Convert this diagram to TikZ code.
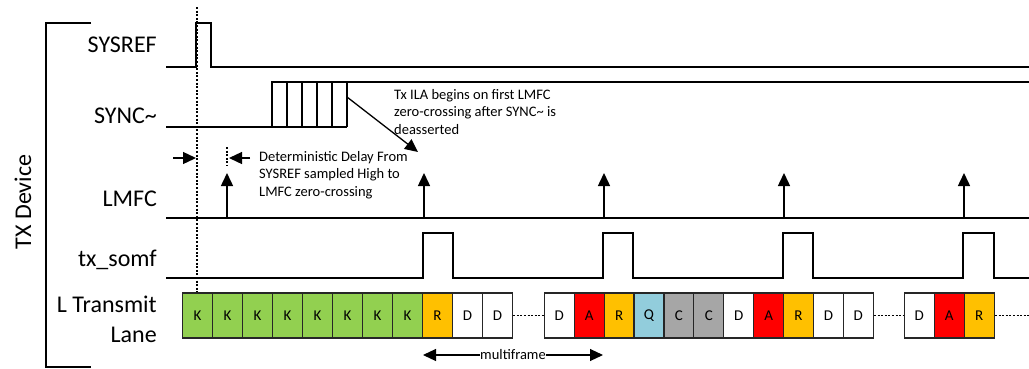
\documentclass[tikz,border=0pt]{standalone}
\usepackage{fontspec}
\setmainfont{Carlito}
\usetikzlibrary{arrows.meta}
\definecolor{kgreen}{HTML}{92D050}
\definecolor{rorange}{HTML}{FFC000}
\definecolor{ared}{HTML}{FF0000}
\definecolor{qblue}{HTML}{92CDDC}
\definecolor{cgray}{HTML}{A6A6A6}
\begin{document}
\begin{tikzpicture}[x=1pt,y=-1pt,
  sig/.style={line width=1.5pt, line join=miter},
  biglabel/.style={font=\fontsize{24}{28}\selectfont, anchor=base east, inner sep=0pt},
  note/.style={font=\fontsize{14.5}{17.5}\selectfont, align=left, inner sep=0pt},
  cell/.style={draw=black!85, line width=1.2pt, minimum width=30pt, minimum height=45pt, inner sep=0pt, font=\fontsize{15}{17}\selectfont},
  dotline/.style={line width=1.2pt, dash pattern=on 2pt off 1.6pt},
  tip/.style={-{Triangle[length=13pt,width=12pt]}, line width=1.5pt},
  dtip/.style={{Triangle[length=13pt,width=12pt]}-{Triangle[length=13pt,width=12pt]}, line width=1.1pt}
]
\useasboundingbox (0,0) rectangle (1029,368);

% bracket and device label
\draw[line width=1.5pt] (91,23) -- (46,23) -- (46,367) -- (91,367);
\node[font=\fontsize{24}{28}\selectfont, rotate=90, inner sep=0pt] (dev) at (23,202) {TX Device};

% signal labels
\node[biglabel] (lsys) at (157,52) {SYSREF};
\node[biglabel] (lsync) at (157,123) {SYNC\char`~};
\node[biglabel] (llmfc) at (157,206) {LMFC};
\node[biglabel] (lsomf) at (157,266) {tx\_somf};
\node[biglabel] (llane1) at (157,312) {L Transmit};
\node[biglabel] (llane2) at (157,342) {Lane};

% SYSREF
\draw[sig] (166,67) -- (196,67) -- (196,23) -- (211,23) -- (211,67) -- (1029,67);

% SYNC~
\draw[sig] (166,127) -- (347,127);
\draw[sig] (272,127) -- (272,82) -- (1029,82);
\foreach \x in {287,302,317,332,347} \draw[sig] (\x,82) -- (\x,127);
\coordinate (syncend) at (347,97);

% dotted reference line
\draw[dotline] (197,7) -- (197,293);

% ILA note
\node[note, anchor=west] (ila) at (394,112) {Tx ILA begins on first LMFC\\zero-crossing after SYNC\char`~{} is\\deasserted};
\coordinate (ilatip) at (418,152);
\draw[tip, line width=1.3pt] (syncend) -- (ilatip);

% deterministic delay
\draw[dotline] (227,147) -- (227,166);
\draw[tip, line width=1.3pt] (173,158) -- (196,158);
\draw[tip, line width=1.3pt] (250,158) -- (229,158);
\node[note, anchor=west] (dd) at (259,175) {Deterministic Delay From\\SYSREF sampled High to\\LMFC zero-crossing};

% LMFC
\draw[sig] (166,218) -- (1029,218);
\foreach \x in {227,424,604,784,964} \draw[tip] (\x,218) -- (\x,173);

% tx_somf
\draw[sig] (166,278) -- (423,278) -- (423,233) -- (453,233) -- (453,278)
  -- (603,278) -- (603,233) -- (633,233) -- (633,278)
  -- (783,278) -- (783,233) -- (813,233) -- (813,278)
  -- (963,278) -- (963,233) -- (994,233) -- (994,278) -- (1029,278);

% transmit lane
\foreach \t/\c [count=\i] in {K/kgreen,K/kgreen,K/kgreen,K/kgreen,K/kgreen,K/kgreen,K/kgreen,K/kgreen,R/rorange,D/white,D/white}
  \node[cell, fill=\c] (a\i) at ({197.5+30*(\i-1)},315.5) {\t};
\foreach \t/\c [count=\i] in {D/white,A/ared,R/rorange,Q/qblue,C/cgray,C/cgray,D/white,A/ared,R/rorange,D/white,D/white}
  \node[cell, fill=\c] (b\i) at ({559.3+29.9*(\i-1)},315.5) {\t};
\foreach \t/\c [count=\i] in {D/white,A/ared,R/rorange}
  \node[cell, fill=\c] (c\i) at ({919.3+30*(\i-1)},315.5) {\t};
\draw[dotline] (a11.east) -- (b1.west);
\draw[dotline] (b11.east) -- (c1.west);
\coordinate (laneend) at (1029,315.5);
\draw[dotline] (c3.east) -- (laneend);

% multiframe
\coordinate (mfl) at (423,355);
\coordinate (mfr) at (603,355);
\draw[dtip] (mfl) -- node[fill=white, inner sep=0.5pt, font=\fontsize{14.5}{17}\selectfont] (mf) {multiframe} (mfr);
\end{tikzpicture}
\end{document}
